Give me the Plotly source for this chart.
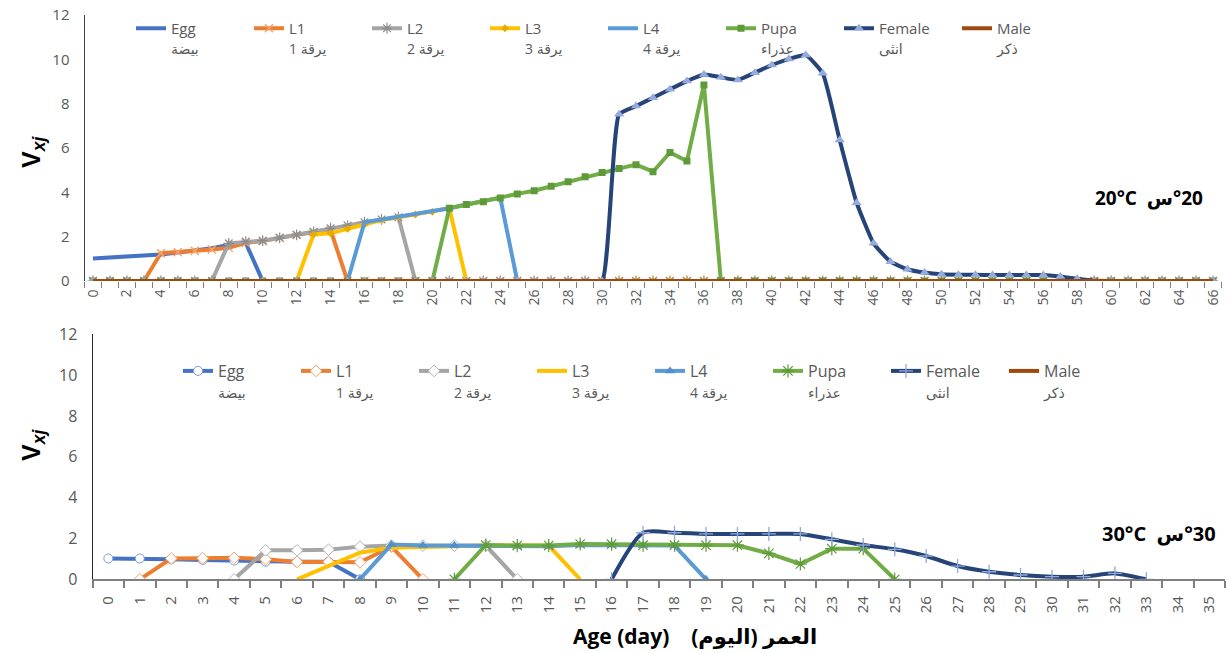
import plotly.graph_objects as go

# ---------------- data: 20 C (days 0..66) ----------------
days20 = list(range(0, 67))
tick20 = list(range(0, 67, 2))

egg20 = [1.02, 1.06, 1.1, 1.14, 1.2, 1.28, 1.36, 1.48, 1.62, 1.72, 0,
         0, 0, 0, 0, 0, 0, 0, 0, 0, 0, 0, 0, 0, 0, 0, 0, 0, 0, 0,
         0, 0, 0, 0, 0, 0, 0, 0, 0, 0, 0, 0, 0, 0, 0, 0, 0, 0, 0,
         0, 0, 0, 0, 0, 0, 0, 0, 0, 0, 0, 0, 0, 0, 0, 0, 0, 0]
l1_20 = [0, 0, 0, 0, 1.25, 1.3, 1.36, 1.42, 1.5, 1.72, 1.8, 1.95, 2.08, 2.2, 2.3, 0,
         0, 0, 0, 0, 0, 0, 0, 0, 0, 0, 0, 0, 0, 0, 0, 0, 0, 0, 0, 0,
         0, 0, 0, 0, 0, 0, 0, 0, 0, 0, 0, 0, 0, 0, 0, 0, 0, 0, 0, 0,
         0, 0, 0, 0, 0, 0, 0, 0, 0, 0, 0]
l2_20 = [0, 0, 0, 0, 0, 0, 0, 0, 1.7, 1.78, 1.82, 1.95, 2.08, 2.22, 2.38, 2.5, 2.65, 2.78, 2.88, 0,
         0, 0, 0, 0, 0, 0, 0, 0, 0, 0, 0, 0, 0, 0, 0, 0, 0, 0, 0, 0,
         0, 0, 0, 0, 0, 0, 0, 0, 0, 0, 0, 0, 0, 0, 0, 0, 0, 0, 0, 0,
         0, 0, 0, 0, 0, 0, 0]
l3_20 = [0, 0, 0, 0, 0, 0, 0, 0, 0, 0, 0, 0, 0, 2.1, 2.15, 2.35, 2.55, 2.75, 2.88, 3.0, 3.12, 3.28, 0,
         0, 0, 0, 0, 0, 0, 0, 0, 0, 0, 0, 0, 0, 0, 0, 0, 0, 0, 0, 0,
         0, 0, 0, 0, 0, 0, 0, 0, 0, 0, 0, 0, 0, 0, 0, 0, 0, 0, 0, 0, 0, 0, 0, 0]
l4_20 = [0, 0, 0, 0, 0, 0, 0, 0, 0, 0, 0, 0, 0, 0, 0, 0, 2.65, 2.78, 2.9, 3.02, 3.14, 3.28,
         3.45, 3.58, 3.75, 0,
         0, 0, 0, 0, 0, 0, 0, 0, 0, 0, 0, 0, 0, 0, 0, 0, 0, 0, 0, 0,
         0, 0, 0, 0, 0, 0, 0, 0, 0, 0, 0, 0, 0, 0, 0, 0, 0, 0, 0, 0, 0]
pupa20 = [0, 0, 0, 0, 0, 0, 0, 0, 0, 0, 0, 0, 0, 0, 0, 0, 0, 0, 0, 0, 0,
          3.28, 3.45, 3.58, 3.75, 3.93, 4.07, 4.27, 4.48, 4.7, 4.89, 5.07, 5.25, 4.93,
          5.8, 5.41, 8.84, 0,
          0, 0, 0, 0, 0, 0, 0, 0, 0, 0, 0, 0, 0, 0, 0, 0, 0, 0, 0, 0,
          0, 0, 0, 0, 0, 0, 0, 0, 0]
female20 = [0, 0, 0, 0, 0, 0, 0, 0, 0, 0, 0, 0, 0, 0, 0, 0, 0, 0, 0, 0,
            0, 0, 0, 0, 0, 0, 0, 0, 0, 0, 0,
            7.52, 7.89, 8.27, 8.65, 9.02, 9.32, 9.19, 9.07, 9.4, 9.74, 10.01, 10.19,
            9.37, 6.36, 3.53, 1.7, 0.87, 0.53, 0.38, 0.3, 0.28, 0.28, 0.27, 0.27,
            0.27, 0.27, 0.2, 0.1, 0.02, 0, 0, 0, 0, 0, 0, 0]
male20 = [0, 0, 0, 0, 0, 0, 0, 0, 0, 0, 0, 0, 0, 0, 0, 0, 0, 0, 0, 0,
          0, 0, 0, 0, 0, 0, 0, 0, 0, 0, 0, 0, 0, 0, 0, 0, 0, 0, 0, 0,
          0, 0, 0, 0, 0, 0, 0, 0, 0, 0, 0, 0, 0, 0, 0, 0, 0, 0, 0, 0,
          0, 0, 0, 0, 0, 0, 0]

# ---------------- data: 30 C (days 0..35) ----------------
days30 = list(range(0, 36))
N = None
egg30 = [1.02, 1.02, 0.98, 0.95, 0.92, 0.86, 0.86, 0.86, 0,
         N, N, N, N, N, N, N, N, N, N, N, N, N, N, N, N, N, N, N, N, N, N, N, N, N, N, N]
l1_30 = [N, 0, 1.02, 1.03, 1.05, 0.98, 0.85, 0.85, 0.83, 1.6, 0,
         N, N, N, N, N, N, N, N, N, N, N, N, N, N, N, N, N, N, N, N, N, N, N, N, N]
l2_30 = [N, N, N, N, 0, 1.42, 1.42, 1.45, 1.6, 1.65, 1.65, 1.65, 1.65, 0,
         N, N, N, N, N, N, N, N, N, N, N, N, N, N, N, N, N, N, N, N, N, N]
l3_30 = [N, N, N, N, N, N, 0, 0.65, 1.3, 1.55, 1.6, 1.62, 1.65, 1.65, 1.65, 0,
         N, N, N, N, N, N, N, N, N, N, N, N, N, N, N, N, N, N, N, N]
l4_30 = [N, N, N, N, N, N, N, N, 0, 1.7, 1.65, 1.65, 1.65, 1.62, 1.62, 1.68, 1.68, 1.65, 1.65, 0,
         N, N, N, N, N, N, N, N, N, N, N, N, N, N, N, N]
pupa30 = [N, N, N, N, N, N, N, N, N, N, N, 0, 1.68, 1.65, 1.65, 1.73, 1.72, 1.67, 1.67, 1.67,
          1.67, 1.27, 0.75, 1.5, 1.5, 0,
          N, N, N, N, N, N, N, N, N, N]
female30 = [N, N, N, N, N, N, N, N, N, N, N, N, N, N, N, N, 0, 2.28, 2.28, 2.22, 2.22, 2.22,
            2.22, 1.96, 1.68, 1.47, 1.14, 0.65, 0.37, 0.21, 0.13, 0.13, 0.29, 0, N, N]
male30 = [N, N, N, N, N, N, N, N, N, N, N, N, N, N, N, N, N, N, N, N,
          N, N, N, N, N, N, N, N, N, N, N, N, N, N, N, N]

names_en = ["Egg", "L1", "L2", "L3", "L4", "Pupa", "Female", "Male"]
names_ar = ["بيضة", "يرقة 1", "يرقة 2", "يرقة 3", "يرقة 4", "عذراء", "انثى", "ذكر"]
colors = ["#4472C4", "#ED7D31", "#A5A5A5", "#FFC000", "#5B9BD5", "#70AD47", "#264478", "#9E480E"]

W, H = 1227, 653
FONT = "Open Sans, DejaVu Sans, sans-serif"
TICKC = "#595959"

def lbl(i):
    return (names_en[i] + '<br><span style="font-size:14px">' + names_ar[i] + '</span>')

fig = go.Figure()

# top chart markers
m20 = [
    dict(symbol="circle", size=1, opacity=0),
    dict(symbol="x-thin-open", size=8, color="#F4A46C", line=dict(width=1.5, color="#F4A46C")),
    dict(symbol="asterisk-open", size=9, color="#8C8C8C", line=dict(width=1.2, color="#8C8C8C")),
    dict(symbol="diamond", size=6, color="#E6AC00"),
    dict(symbol="circle", size=1, opacity=0),
    dict(symbol="square", size=7, color="#5E9A3A"),
    dict(symbol="triangle-up", size=9, color="#94ABDB"),
    dict(symbol="circle", size=1, opacity=0),
]
modes20 = ["lines", "lines+markers", "lines+markers", "lines+markers", "lines",
           "lines+markers", "lines+markers", "lines"]
series20 = [egg20, l1_20, l2_20, l3_20, l4_20, pupa20, female20, male20]
for i, ys in enumerate(series20):
    fig.add_trace(go.Scatter(
        x=days20, y=ys, name=lbl(i), mode=modes20[i],
        line=dict(color=colors[i], width=4,
                  shape="spline" if i == 6 else "linear", smoothing=0.45),
        marker=m20[i], xaxis="x", yaxis="y", legend="legend"))

# bottom chart markers
m30 = [
    dict(symbol="circle", size=9, color="#FFFFFF", line=dict(width=1, color="#7C9BD6")),
    dict(symbol="diamond", size=9, color="#FFFFFF", line=dict(width=1, color="#F2A26A")),
    dict(symbol="diamond", size=9, color="#FFFFFF", line=dict(width=1, color="#B5B5B5")),
    dict(symbol="circle", size=1, opacity=0),
    dict(symbol="triangle-up", size=9, color="#4F8FCC"),
    dict(symbol="asterisk-open", size=11, color="#5E9A3A", line=dict(width=1.2, color="#5E9A3A")),
    dict(symbol="cross-thin-open", size=10, color="#8FAADC", line=dict(width=1.3, color="#8FAADC")),
    dict(symbol="circle", size=1, opacity=0),
]
modes30 = ["lines+markers", "lines+markers", "lines+markers", "lines", "lines+markers",
           "lines+markers", "lines+markers", "lines"]
series30 = [egg30, l1_30, l2_30, l3_30, l4_30, pupa30, female30, male30]
for i, ys in enumerate(series30):
    fig.add_trace(go.Scatter(
        x=days30, y=ys, name=lbl(i), mode=modes30[i],
        line=dict(color=colors[i], width=4,
                  shape="spline" if i == 6 else "linear", smoothing=0.7),
        marker=m30[i], xaxis="x2", yaxis="y2", legend="legend2"))

def px_x(p):
    return p / W

def px_y(p):
    return 1 - p / H

axis_common = dict(showgrid=False, zeroline=False, fixedrange=True, automargin=False)
CLEAR = "rgba(0,0,0,0)"

fig.update_layout(
    width=W, height=H,
    margin=dict(l=0, r=0, t=0, b=0, autoexpand=False),
    paper_bgcolor="white", plot_bgcolor="white",
    font=dict(family=FONT, color=TICKC),
    xaxis=dict(domain=[px_x(84.5), px_x(1221.5)], range=[-0.5, 66.5],
               tickmode="array", tickvals=tick20, ticktext=[str(v) for v in tick20],
               tickangle=-90, ticks="outside", ticklen=2, tickcolor=CLEAR,
               tickfont=dict(size=14, color=TICKC),
               showline=False, anchor="y",
               minor=dict(tickmode="linear", tick0=0.5, dtick=1, ticks="outside",
                          ticklen=6, tickcolor="#7F7F7F", tickwidth=1),
               **axis_common),
    yaxis=dict(domain=[px_y(281), px_y(15)], range=[0, 12], tickvals=[0, 2, 4, 6, 8, 10, 12],
               tickfont=dict(size=15, color=TICKC), showline=True, linecolor="#404040",
               linewidth=1, ticks="outside", ticklen=11, tickcolor=CLEAR, anchor="x",
               **axis_common),
    xaxis2=dict(domain=[px_x(92.6), px_x(1225)], range=[-0.5, 35.5],
                tickmode="array", tickvals=days30, ticktext=[str(v) for v in days30],
                tickangle=-90, ticks="outside", ticklen=9, tickcolor=CLEAR,
                tickfont=dict(size=15, color=TICKC),
                showline=True, linecolor="#7F7F7F", linewidth=1.5, anchor="y2",
                minor=dict(tickmode="linear", tick0=0.5, dtick=1, ticks="outside",
                           ticklen=7, tickcolor="#7F7F7F", tickwidth=1.5),
                **axis_common),
    yaxis2=dict(domain=[px_y(579.3), px_y(334.3)], range=[0, 12], tickvals=[0, 2, 4, 6, 8, 10, 12],
                tickfont=dict(size=16, color=TICKC), showline=True, linecolor="#262626",
                linewidth=1, ticks="outside", ticklen=11, tickcolor=CLEAR, anchor="x2",
                **axis_common),
    legend=dict(orientation="h", x=px_x(131), y=px_y(12), xanchor="left", yanchor="top",
                bgcolor=CLEAR, font=dict(size=15, color=TICKC, family=FONT),
                entrywidth=73, entrywidthmode="pixels", valign="top",
                itemwidth=30, tracegroupgap=0),
    legend2=dict(orientation="h", x=px_x(178), y=px_y(354), xanchor="left", yanchor="top",
                 bgcolor=CLEAR, font=dict(size=16, color=TICKC, family=FONT),
                 entrywidth=73, entrywidthmode="pixels", valign="top",
                 itemwidth=30, tracegroupgap=0),
    showlegend=True,
)

ann = dict(xref="paper", yref="paper", showarrow=False, yanchor="middle")
fig.add_annotation(text="<b>V<sub><i>xj</i></sub></b>", x=px_x(33), y=px_y(152),
                   xanchor="center", textangle=-90,
                   font=dict(size=25, color="#000000", family="Liberation Sans, Arial"), **ann)
fig.add_annotation(text="<b>V<sub><i>xj</i></sub></b>", x=px_x(33), y=px_y(445),
                   xanchor="center", textangle=-90,
                   font=dict(size=25, color="#000000", family="Liberation Sans, Arial"), **ann)
fig.add_annotation(text="<b>20°C  \u202Dس°20\u202C</b>", x=px_x(1205), y=px_y(198),
                   xanchor="right", font=dict(size=19, color="#000000", family=FONT), **ann)
fig.add_annotation(text="<b>30°C  \u202Dس°30\u202C</b>", x=px_x(1218), y=px_y(533),
                   xanchor="right", font=dict(size=20, color="#000000", family=FONT), **ann)
fig.add_annotation(text="<b>Age (day)    العمر (اليوم)</b>", x=px_x(695), y=px_y(636),
                   xanchor="center", font=dict(size=21, color="#000000", family=FONT), **ann)

fig.write_html("out.html", config={"displayModeBar": False},
               post_script="document.body.style.margin='0';")
